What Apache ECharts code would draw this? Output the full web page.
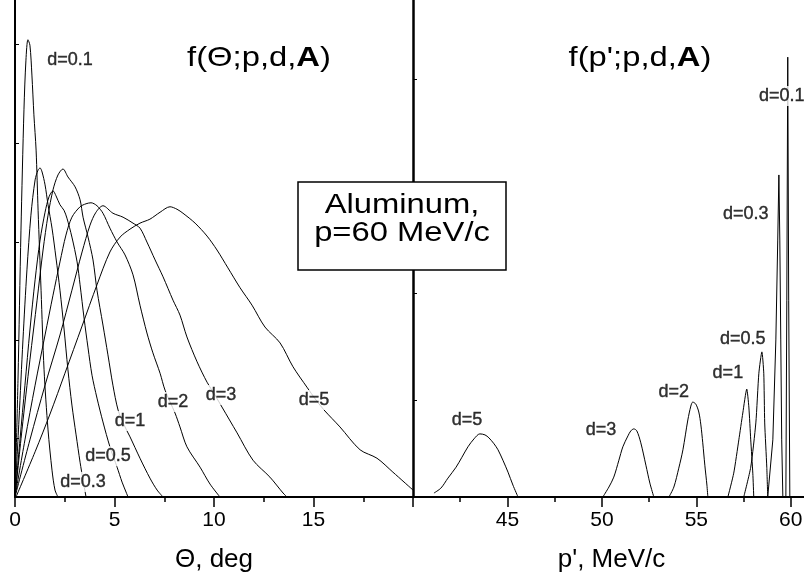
<!DOCTYPE html>
<html>
<head>
<meta charset="utf-8">
<script src="https://cdn.jsdelivr.net/npm/echarts@6/dist/echarts.min.js"></script>
<style>
html, body { margin: 0; padding: 0; background: #fff; }
#main { width: 804px; height: 579px; }
</style>
</head>
<body>
<div id="main"></div>
<script>
// angular distributions f(Theta) : [Theta deg, f]
var thetaD01 = [[0,0],[0.15,23.5],[0.30,53.7],[0.45,77.9],[0.55,87.9],[0.65,92.0],[0.75,90.9],[0.85,84.9],[0.95,76.9],[1.06,69.8],[1.16,57.7],[1.31,41.6],[1.46,25.6],[1.66,13.5],[1.86,5.4],[2.01,1.4],[2.16,0]];
var thetaD03 = [[0,0],[0.20,15.5],[0.40,31.6],[0.60,45.7],[0.80,56.7],[1.01,63.8],[1.16,65.8],[1.26,66.2],[1.36,65.4],[1.51,62.8],[1.66,58.8],[1.86,54.1],[2.06,48.1],[2.26,41.6],[2.46,34.0],[2.66,25.6],[2.86,18.5],[3.07,12.5],[3.27,7.0],[3.42,3.4],[3.57,0]];
var thetaD05 = [[0,0],[0.25,11.5],[0.50,22.5],[0.75,33.6],[1.01,43.7],[1.26,51.7],[1.51,57.3],[1.71,60.4],[1.91,61.6],[2.06,60.6],[2.26,58.8],[2.46,57.7],[2.61,56.1],[2.86,52.3],[3.12,47.3],[3.27,42.7],[3.47,36.0],[3.67,30.0],[3.87,24.5],[4.12,19.9],[4.42,15.1],[4.77,10.1],[5.13,6.0],[5.38,3.0],[5.58,1.0],[5.68,0]];
var thetaD1 = [[0,0],[0.35,13.5],[0.75,27.6],[1.11,39.6],[1.41,49.7],[1.66,56.7],[1.91,61.8],[2.16,64.8],[2.41,66.0],[2.66,64.4],[3.02,62.4],[3.27,59.8],[3.42,56.3],[3.67,52.3],[3.92,47.7],[4.12,41.6],[4.42,34.6],[4.67,28.6],[4.92,22.5],[5.18,17.5],[5.48,14.5],[5.78,12.1],[6.28,7.8],[6.78,3.8],[7.14,1.4],[7.44,0]];
var thetaD2 = [[0,0],[0.50,11.5],[1.01,22.5],[1.51,32.6],[1.91,40.6],[2.26,47.3],[2.56,52.7],[2.86,56.3],[3.27,58.4],[3.57,59.0],[3.82,59.2],[4.12,58.6],[4.42,57.1],[4.77,54.1],[5.13,51.3],[5.53,48.7],[5.93,44.7],[6.28,38.6],[6.63,33.0],[6.93,29.0],[7.29,24.9],[7.54,21.5],[8.04,16.9],[8.29,14.1],[8.64,10.1],[9.30,6.0],[9.80,2.6],[10.30,0]];
var thetaD3 = [[0,0],[0.75,11.5],[1.51,22.5],[2.26,32.6],[2.86,41.6],[3.37,49.3],[3.77,54.7],[4.07,57.3],[4.42,58.6],[4.92,57.1],[5.43,56.3],[5.93,55.1],[6.28,54.1],[6.63,51.3],[7.04,47.7],[7.44,44.3],[7.94,39.6],[8.29,36.6],[8.64,32.2],[9.15,27.2],[9.65,23.1],[10.05,20.5],[10.40,18.1],[11.16,12.9],[11.96,7.4],[12.81,4.0],[13.47,0.8],[13.67,0]];
var thetaD5 = [[0.05,0],[1.01,9.1],[1.76,16.7],[2.51,24.9],[3.37,34.4],[4.12,42.7],[4.77,49.3],[5.28,52.3],[5.78,53.9],[6.28,55.1],[6.78,55.9],[7.29,57.3],[7.79,58.4],[8.14,57.9],[8.44,57.1],[9.05,55.1],[9.65,52.5],[10.15,49.7],[10.70,46.1],[11.31,42.1],[11.91,38.6],[12.56,34.2],[13.32,31.0],[13.97,26.2],[14.67,22.1],[15.13,19.5],[15.53,17.5],[16.33,14.1],[17.34,9.5],[18.19,7.8],[18.99,5.0],[20.0,1.4]];

// momentum distributions f(p') : [p' MeV/c, f]
var pD5 = [[41.11,0.8],[41.48,1.8],[41.85,3.8],[42.28,6.0],[42.59,8.0],[42.91,10.1],[43.23,11.7],[43.54,12.7],[43.81,12.5],[44.02,11.9],[44.29,10.7],[44.50,9.5],[44.76,7.4],[45.03,5.0],[45.29,2.4],[45.56,0]];
var pD3 = [[50.05,0],[50.37,2.0],[50.63,4.0],[50.90,7.4],[51.11,10.1],[51.38,12.3],[51.53,13.3],[51.69,13.7],[51.85,13.3],[52.06,10.9],[52.33,6.4],[52.54,2.8],[52.75,0]];
var pD2 = [[53.55,0],[53.81,2.0],[54.07,5.8],[54.29,9.5],[54.55,15.5],[54.71,18.3],[54.81,19.1],[54.97,18.7],[55.13,17.1],[55.24,14.5],[55.34,10.9],[55.45,6.4],[55.56,2.4],[55.61,0]];
var pD1 = [[56.67,0],[56.98,4.8],[57.25,11.5],[57.46,16.9],[57.67,21.7],[57.78,18.1],[57.88,11.5],[57.99,4.8],[58.04,0]];
var pD05 = [[57.51,0],[57.88,6.0],[58.15,14.9],[58.31,24.9],[58.47,29.2],[58.57,24.9],[58.62,14.9],[58.73,6.0],[58.78,0]];
var pD03 = [[58.78,0],[59.05,11.5],[59.21,31.6],[59.31,51.7],[59.37,64.8],[59.42,51.7],[59.47,31.6],[59.52,11.5],[59.58,0]];
var pD01 = [[59.74,0],[59.79,39.6],[59.84,88.5],[59.89,39.6],[59.95,0]];

// curve tags [text, x, y]
var leftTags = [['d=0.1',2.76,87.9],['d=0.3',3.42,3.0],['d=0.5',4.67,8.2],['d=1',5.78,15.3],['d=2',7.94,19.1],['d=3',10.35,20.5],['d=5',15.03,19.5]];
var rightTags = [['d=5',42.86,15.5],['d=3',49.95,13.5],['d=2',53.81,21.1],['d=1',56.67,24.9],['d=0.5',57.46,31.8],['d=0.3',57.62,56.9],['d=0.1',59.52,80.7]];

// tick labels and unlabeled y ticks
var thetaLabels = [0, 5, 10, 15];
var pLabels = [45, 50, 55, 60];
var leftYTicks = [11.9, 31.6, 51.3, 71.2, 91.1];
var rightYTicks = [19.5, 41.0, 62.6, 84.1];

var mychart = echarts.init(document.getElementById('main'));

var sans = '"Liberation Sans", Arial, sans-serif';

function curve(data, xi, smooth) {
	return {
		type: 'line',
		xAxisIndex: xi,
		yAxisIndex: xi,
		data: data,
		showSymbol: false,
		smooth: smooth,
		lineStyle: {color: '#000', width: 1},
		z: 2
	};
}

function tags(list, xi) {
	return {
		type: 'scatter',
		xAxisIndex: xi,
		yAxisIndex: xi,
		symbolSize: 1,
		itemStyle: {color: 'rgba(255,255,255,0)'},
		data: list.map(function(t) { return [t[1], t[2], t[0]]; }),
		label: {
			show: true,
			position: 'inside',
			formatter: function(p) { return p.value[2]; },
			color: '#000',
			textBorderColor: '#000',
			textBorderWidth: 0.4,
			fontFamily: sans,
			fontSize: 18,
			backgroundColor: '#fff',
			padding: [1, 1]
		},
		z: 5
	};
}

function xAxisBase(gi, min, max, labels, name, namePad) {
	return {
		type: 'value',
		gridIndex: gi,
		min: min,
		max: max,
		interval: 5,
		name: name,
		nameLocation: 'middle',
		nameGap: 50,
		nameTextStyle: {color: '#000', fontFamily: sans, fontSize: 26, padding: namePad},
		axisLine: {onZero: false, lineStyle: {color: '#000', width: 2}},
		axisTick: {show: true, length: 10, lineStyle: {color: '#000', width: 1.5}},
		minorTick: {show: true, splitNumber: 2, length: 5, lineStyle: {color: '#000', width: 1.5}},
		splitLine: {show: false},
		axisLabel: {
			color: '#000',
			fontFamily: sans,
			fontSize: 21,
			margin: 13,
			formatter: function(v) { return labels.indexOf(v) >= 0 ? String(v) : ''; }
		}
	};
}

function yAxisBase(gi, ticks, width) {
	return {
		type: 'value',
		gridIndex: gi,
		min: 0,
		max: 100,
		axisLine: {show: true, lineStyle: {color: '#000', width: width}},
		axisTick: {show: true, inside: true, length: 4, customValues: ticks, lineStyle: {color: '#000'}},
		axisLabel: {show: false},
		splitLine: {show: false}
	};
}

var option = {
	animation: false,
	backgroundColor: '#fff',
	grid: [
		{left: 15, top: 0, width: 398, height: 497, outerBoundsMode: 'none'},
		{left: 413, top: 0, width: 425, height: 497, outerBoundsMode: 'none'}
	],
	xAxis: [
		xAxisBase(0, 0, 20, thetaLabels, 'Θ, deg', [0, 0, 0, 0]),
		xAxisBase(1, 40, 62.5, pLabels, "p', MeV/c", [0, 28, 0, 0])
	],
	yAxis: [
		yAxisBase(0, leftYTicks, 2),
		yAxisBase(1, rightYTicks, 2.5)
	],
	series: [
		curve(thetaD01, 0, 0.3),
		curve(thetaD03, 0, 0.3),
		curve(thetaD05, 0, 0.3),
		curve(thetaD1, 0, 0.3),
		curve(thetaD2, 0, 0.3),
		curve(thetaD3, 0, 0.3),
		curve(thetaD5, 0, 0.3),
		curve(pD5, 1, 0.3),
		curve(pD3, 1, 0.3),
		curve(pD2, 1, 0.3),
		curve(pD1, 1, 0.2),
		curve(pD05, 1, 0.2),
		curve(pD03, 1, false),
		curve(pD01, 1, false),
		tags(leftTags, 0),
		tags(rightTags, 1)
	],
	graphic: [
		{
			type: 'text', x: 259, y: 58, scaleX: 1.17, z: 100,
			style: {
				text: 'f(Θ;p,d,{b|A})', x: 0, y: 0, align: 'center', verticalAlign: 'middle',
				fill: '#000', font: '28px ' + sans,
				rich: {b: {fontWeight: 'bold', fontSize: 28, fontFamily: sans, fill: '#000'}}
			}
		},
		{
			type: 'text', x: 640, y: 58, scaleX: 1.17, z: 100,
			style: {
				text: "f(p';p,d,{b|A})", x: 0, y: 0, align: 'center', verticalAlign: 'middle',
				fill: '#000', font: '28px ' + sans,
				rich: {b: {fontWeight: 'bold', fontSize: 28, fontFamily: sans, fill: '#000'}}
			}
		},
		{
			type: 'rect', z: 100,
			shape: {x: 298, y: 182, width: 208, height: 88},
			style: {fill: '#fff', stroke: '#000', lineWidth: 1.5}
		},
		{
			type: 'text', x: 402, y: 205, scaleX: 1.17, z: 101,
			style: {text: 'Aluminum,', x: 0, y: 0, align: 'center', verticalAlign: 'middle', fill: '#000', font: '28px ' + sans}
		},
		{
			type: 'text', x: 402, y: 233, scaleX: 1.17, z: 101,
			style: {text: 'p=60 MeV/c', x: 0, y: 0, align: 'center', verticalAlign: 'middle', fill: '#000', font: '28px ' + sans}
		}
	]
};

mychart.setOption(option);
</script>
</body>
</html>
